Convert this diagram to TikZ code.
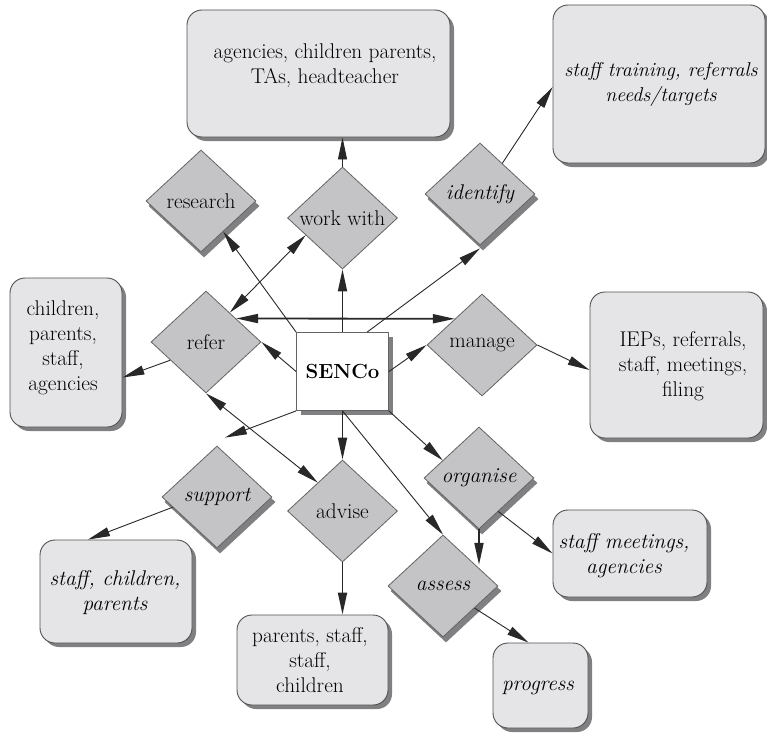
\documentclass[tikz,border=0pt]{standalone}
\usetikzlibrary{shapes.geometric,shadows,arrows.meta,backgrounds}
\definecolor{dfill}{RGB}{196,196,198}
\definecolor{dline}{RGB}{100,100,100}
\definecolor{bfill}{RGB}{229,229,231}
\definecolor{bline}{RGB}{80,80,80}
\definecolor{shad}{RGB}{128,128,130}
\definecolor{arr}{RGB}{40,40,40}
\begin{document}
\begin{tikzpicture}[x=1pt,y=-1pt,
  fnt/.style={font=\fontsize{21.3pt}{25pt}\selectfont},
  itf/.style={font=\fontsize{21.3pt}{25pt}\selectfont\itshape},
  dshad/.style={drop shadow={shadow xshift=4pt, shadow yshift=-4pt, fill=shad, opacity=1}},
  dia/.style={diamond, draw=dline, fill=dfill, line width=0.8pt, minimum width=110pt, minimum height=102pt, inner sep=0pt, fnt},
  rbox/.style={draw=bline, fill=bfill, rounded corners=15pt, line width=0.9pt, dshad},
  txt/.style={fnt, align=center, inner sep=0pt},
  tip/.tip={Triangle[length=22pt,width=9pt]},
  con/.style={draw=arr, line width=0.9pt, -tip},
  tcon/.style={con, line width=1.8pt},
  dcon/.style={con, tip-tip},
  tdcon/.style={dcon, line width=1.8pt}
]
\useasboundingbox (0,0) rectangle (767,733);

% boxes
\node[rbox, minimum width=263pt, minimum height=127pt] (btop) at (318.5,73.5) {};
\node[txt] (ttop) at (325,65.5) {agencies, children parents,\\TAs, headteacher};
\node[rbox, minimum width=212pt, minimum height=158pt] (bident) at (659,84) {};
\node[txt, font=\fontsize{20pt}{25pt}\selectfont\itshape] (tident) at (661,84.5) {staff training, referrals\\needs/targets};
\node[rbox, minimum width=112pt, minimum height=149pt] (bleft) at (66,352.5) {};
\node[txt] (tleft) at (63,347.5) {children,\\parents,\\staff,\\agencies};
\node[rbox, minimum width=173pt, minimum height=146pt] (bmanage) at (676.5,365) {};
\node[txt] (tmanage) at (683,366) {IEPs, referrals,\\staff, meetings,\\filing};
\node[rbox, minimum width=152pt, minimum height=103pt] (bsupport) at (116,591.5) {};
\node[txt, itf] (tsupport) at (115,592.5) {staff, children,\\parents};
\node[rbox, minimum width=151pt, minimum height=90pt] (badvise) at (312.5,660) {};
\node[txt] (tadvise) at (310,660) {parents, staff,\\staff,\\children};
\node[rbox, minimum width=154pt, minimum height=87pt] (borg) at (630,553.5) {};
\node[txt, itf] (torg) at (624,556) {staff meetings,\\agencies};
\node[rbox, minimum width=95pt, minimum height=85pt] (bprog) at (540.5,685.5) {};
\node[txt, itf] (tprog) at (538,688) {progress};

% diamonds
\node[dia] (research) at (201,201) {research};
\node[dia] (workwith) at (342.5,218) {work with};
\node[dia, itf] (identify) at (480,194) {identify};
\node[dia] (refer) at (206,342) {refer};
\node[dia] (manage) at (482,345) {manage};
\node[dia, itf] (support) at (217,497) {support};
\node[dia] (advise) at (342.5,511) {advise};
\node[dia, itf] (organise) at (479,478) {organise};
\node[dia, itf] (assess) at (443,586) {assess};

% centre
\node[draw=dline, fill=white, line width=0.8pt, minimum width=92pt, minimum height=78pt, dshad, font=\fontsize{20.4pt}{25pt}\selectfont\bfseries] (senco) at (342.5,371.5) {SENCo};

\begin{pgfonlayer}{background}
  \fill[white] (0,0) rectangle (767,733);
  \foreach \n in {research,identify,support,organise,assess}
    \fill[shad] ([shift={(3pt,-5pt)}]\n.north) -- ([shift={(3pt,-5pt)}]\n.east)
      -- ([shift={(3pt,-5pt)}]\n.south) -- ([shift={(3pt,-5pt)}]\n.west) -- cycle;
\end{pgfonlayer}

% connectors
\draw[con] (senco.north west) -- (research);
\draw[dcon] (refer.51) -- (workwith.205);
\draw[tcon] (senco.north) -- (workwith.south);
\draw[tdcon] (refer.38) -- (manage.136);
\draw[con] (senco.58) -- ([yshift=-3pt]identify.south);
\draw[con] (identify.54) -- ([yshift=-3pt]bident.west);
\draw[con] (workwith.north) -- (workwith.north |- btop.south);
\draw[con] (senco.west) -- (refer.east);
\draw[con] (refer.207) -- ([yshift=-25pt]bleft.east);
\draw[con] (senco.east) -- (manage.west);
\draw[con] (manage.east) -- ([yshift=-5pt]bmanage.west);
\draw[con] (senco.south west) -- ([xshift=8pt,yshift=8pt]support.north);
\draw[dcon] (refer.south) -- (advise.131);
\draw[tcon] (senco.south) -- (advise.north);
\draw[con] (senco.south) -- (assess.north);
\draw[con] (senco.south east) -- (organise.154);
\draw[tcon] (organise.south) -- (organise.south |- assess.33);
\draw[con] (organise.300) -- (borg.west);
\draw[con] (assess.325) -- ([xshift=-12pt]bprog.north);
\draw[tcon] (advise.south) -- (advise.south |- badvise.north);
\draw[con] (support.193) -- ([xshift=-28pt]bsupport.north);
\end{tikzpicture}
\end{document}
